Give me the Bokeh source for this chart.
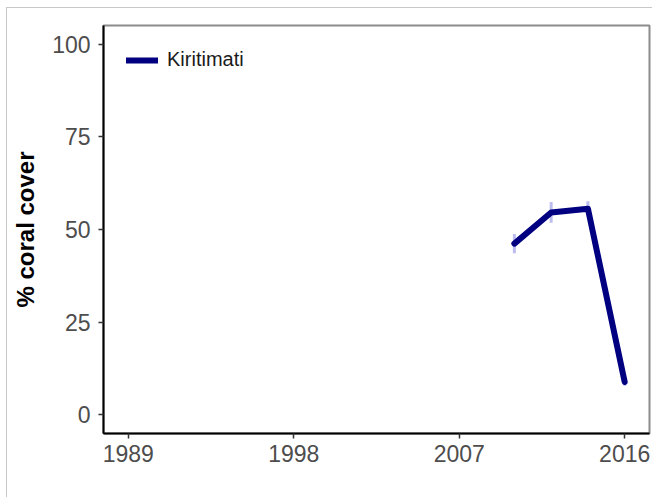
from bokeh.plotting import figure
from bokeh.models import FixedTicker, Legend, LegendItem, Range1d
from bokeh.embed import file_html
from bokeh.resources import INLINE

# Data
years = [2010, 2012, 2014, 2016]
cover = [46.2, 54.6, 55.6, 8.9]
err = [2.6, 2.8, 2.0, 1.0]
series_name = "Kiritimati"
x_ticks = [1989, 1998, 2007, 2016]
y_ticks = [0, 25, 50, 75, 100]

lower = [c - e for c, e in zip(cover, err)]
upper = [c + e for c, e in zip(cover, err)]

p = figure(width=646, height=490, output_backend="svg", toolbar_location=None,
           x_range=Range1d(1987.65, 2017.35), y_range=Range1d(-5, 105),
           min_border_left=96, min_border_right=4, min_border_top=17, min_border_bottom=65)
p.styles = {"border-left": "1px solid #c8c8c8", "border-top": "1px solid #c8c8c8",
            "margin-left": "6px", "margin-top": "7px"}

p.xgrid.visible = False
p.ygrid.visible = False
p.outline_line_color = "#8c8c8c"
p.outline_line_width = 2
p.background_fill_color = "white"
p.border_fill_color = "white"

p.segment(x0=years, y0=lower, x1=years, y1=upper, line_color="#a0a0e8",
          line_alpha=0.7, line_width=3)
r = p.line(years, cover, line_color="#000080", line_width=6,
           line_join="round", line_cap="round")

font = "Liberation Sans"
for ax in (p.xaxis[0], p.yaxis[0]):
    ax.axis_line_color = "black"
    ax.axis_line_width = 2
    ax.major_tick_line_color = "#333333"
    ax.major_tick_line_width = 1.5
    ax.major_tick_out = 5
    ax.major_tick_in = 0
    ax.minor_tick_line_color = None
    ax.major_label_text_font = font
    ax.major_label_text_font_size = "23px"
    ax.major_label_text_color = "#4d4d4d"

p.xaxis[0].ticker = FixedTicker(ticks=x_ticks)
p.yaxis[0].ticker = FixedTicker(ticks=y_ticks)
p.xaxis[0].major_label_standoff = 6
p.yaxis[0].major_label_standoff = 8

p.yaxis[0].axis_label = "% coral cover"
p.yaxis[0].axis_label_text_font = font
p.yaxis[0].axis_label_text_font_style = "bold"
p.yaxis[0].axis_label_text_font_size = "24px"
p.yaxis[0].axis_label_text_color = "black"
p.yaxis[0].axis_label_standoff = 10

legend = Legend(items=[LegendItem(label=series_name, renderers=[r])],
                location="top_left")
legend.border_line_color = None
legend.background_fill_alpha = 0
legend.margin = 23
legend.padding = 4
legend.glyph_width = 32
legend.label_standoff = 9
legend.label_text_font = font
legend.label_text_font_size = "20px"
legend.label_text_color = "#1a1a1a"
p.add_layout(legend)

open("out.html", "w").write(file_html(p, INLINE))
